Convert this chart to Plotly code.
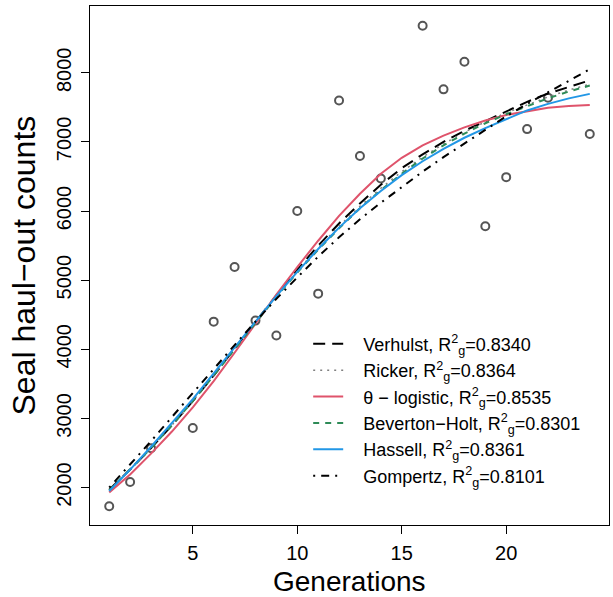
import plotly.graph_objects as go

# Observed seal haul-out counts
obs_gen = [1, 2, 3, 5, 6, 7, 8, 9, 10, 11, 12, 13, 14, 16, 17, 18, 19, 20, 21, 22, 24]
obs_count = [1730, 2080, 2570, 2860, 4400, 5190, 4415, 4200, 6000, 4805, 7600, 6795,
             6470, 8680, 7760, 8160, 5780, 6490, 7185, 7640, 7115]

# Fitted model trajectories (generations 1..24)
gens = list(range(1, 25))
verhulst = [1970, 2260, 2570, 2900, 3250, 3620, 4010, 4400, 4780, 5150, 5500, 5820,
            6110, 6380, 6620, 6820, 7000, 7160, 7300, 7440, 7580, 7700, 7800, 7890]
ricker = [1965, 2260, 2570, 2900, 3250, 3620, 4010, 4395, 4770, 5130, 5470, 5780,
          6070, 6330, 6570, 6780, 6970, 7140, 7290, 7420, 7540, 7650, 7750, 7835]
theta_logistic = [1930, 2190, 2490, 2810, 3160, 3540, 3950, 4370, 4790, 5190, 5570, 5930,
                  6250, 6540, 6770, 6950, 7090, 7210, 7310, 7390, 7440, 7495, 7520, 7535]
beverton_holt = [1960, 2260, 2570, 2900, 3250, 3620, 4005, 4390, 4760, 5110, 5440, 5750,
                 6040, 6300, 6540, 6760, 6950, 7120, 7270, 7400, 7520, 7630, 7730, 7815]
hassell = [1950, 2260, 2590, 2930, 3280, 3650, 4030, 4400, 4770, 5120, 5450, 5760,
           6040, 6290, 6520, 6720, 6900, 7060, 7200, 7330, 7455, 7550, 7630, 7695]
gompertz = [2000, 2330, 2670, 3020, 3370, 3720, 4060, 4400, 4730, 5040, 5340, 5620,
            5880, 6120, 6350, 6570, 6780, 6980, 7180, 7370, 7550, 7720, 7890, 8050]

labels = [
    "Verhulst, R<sup>2</sup><sub>g</sub>=0.8340",
    "Ricker, R<sup>2</sup><sub>g</sub>=0.8364",
    "θ − logistic, R<sup>2</sup><sub>g</sub>=0.8535",
    "Beverton−Holt, R<sup>2</sup><sub>g</sub>=0.8301",
    "Hassell, R<sup>2</sup><sub>g</sub>=0.8361",
    "Gompertz, R<sup>2</sup><sub>g</sub>=0.8101",
]
x_ticks = [5, 10, 15, 20]
y_ticks = [2000, 3000, 4000, 5000, 6000, 7000, 8000]
x_title = "Generations"
y_title = "Seal haul−out counts"

FONT = "Liberation Sans, Arial, Helvetica, sans-serif"
PAD = "\u00a0\u00a0\u00a0"

fig = go.Figure()
fig.add_trace(go.Scatter(
    x=obs_gen, y=obs_count, mode="markers", showlegend=False,
    marker=dict(symbol="circle-open", size=8, color="#555555", line=dict(width=2, color="#555555")),
))

styles = [
    (verhulst, dict(color="black", width=2, dash="12px,7px")),
    (ricker, dict(color="#808080", width=1.5, dash="2px,5px")),
    (theta_logistic, dict(color="#DF536B", width=2, dash="solid")),
    (beverton_holt, dict(color="#2E8B57", width=2, dash="6px,6px")),
    (hassell, dict(color="#2297E6", width=2, dash="solid")),
    (gompertz, dict(color="black", width=2, dash="2px,6px,8px,6px")),
]
for (vals, ln), lab in zip(styles, labels):
    fig.add_trace(go.Scatter(x=gens, y=vals, mode="lines", name=PAD + lab, line=ln))

fig.update_layout(
    width=613, height=597,
    margin=dict(l=90, r=4, t=6, b=72, autoexpand=False),
    paper_bgcolor="white", plot_bgcolor="white",
    font=dict(family=FONT, color="black"),
    showlegend=True,
    legend=dict(
        x=0.4204, y=0.3843, xanchor="left", yanchor="top",
        bgcolor="rgba(0,0,0,0)", borderwidth=0,
        font=dict(size=18, family=FONT, color="black"),
    ),
    xaxis=dict(
        range=[0.08, 24.92], tickvals=x_ticks, ticks="outside", ticklen=8, tickwidth=1,
        tickcolor="black", showline=True, mirror=True, linecolor="black", linewidth=1.3,
        showgrid=False, zeroline=False, tickfont=dict(size=20), automargin=False,
        ticklabelstandoff=2,
    ),
    yaxis=dict(
        range=[1458, 8966], tickvals=y_ticks, ticks="outside", ticklen=8, tickwidth=1,
        tickcolor="black", showline=True, mirror=True, linecolor="black", linewidth=1.3,
        showgrid=False, zeroline=False, tickfont=dict(size=20), tickangle=-90,
        automargin=False, ticklabelstandoff=2,
    ),
    annotations=[
        dict(text=x_title, xref="paper", yref="paper", x=0.5, y=0, xanchor="center",
             yanchor="top", yshift=-40, showarrow=False, borderpad=0,
             font=dict(size=28, family=FONT, color="black")),
        dict(text=y_title, xref="paper", yref="paper", x=0, y=0.5, xanchor="center",
             yanchor="middle", xshift=-67, textangle=-90, showarrow=False, borderpad=0,
             font=dict(size=32, family=FONT, color="black")),
    ],
)

fig.write_html("out.html", config={"displayModeBar": False},
               post_script="document.body.style.margin='0';")
